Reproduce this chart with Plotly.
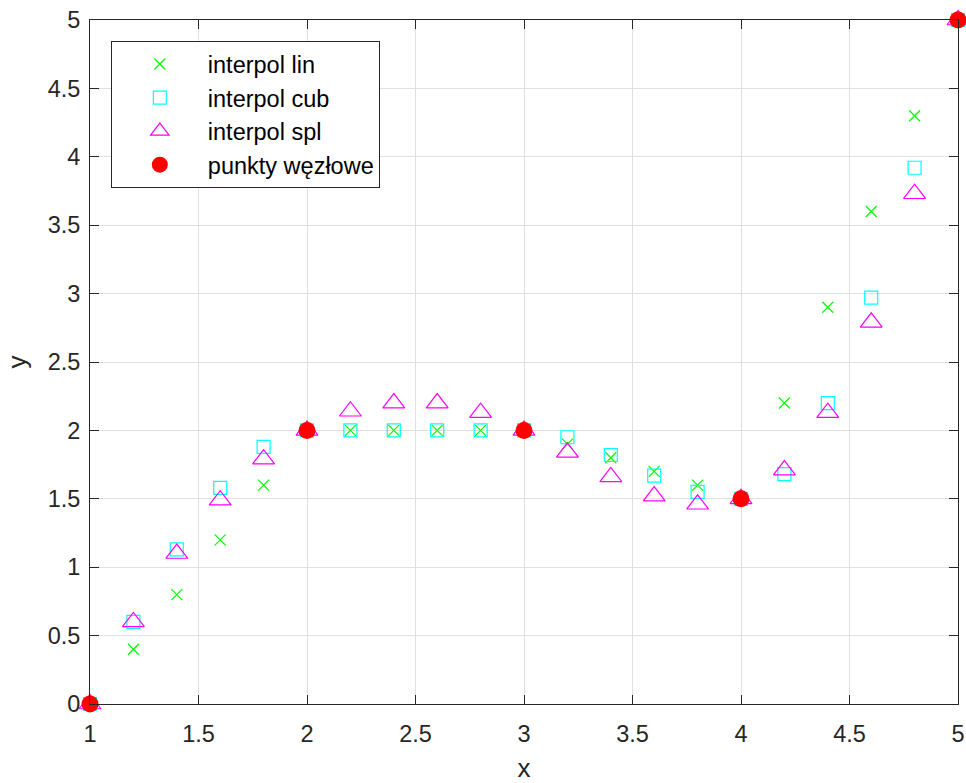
import plotly.graph_objects as go

x = [1.0, 1.2, 1.4, 1.6, 1.8, 2.0, 2.2, 2.4, 2.6, 2.8, 3.0,
     3.2, 3.4, 3.6, 3.8, 4.0, 4.2, 4.4, 4.6, 4.8, 5.0]
y_lin = [0, 0.4, 0.8, 1.2, 1.6, 2, 2, 2, 2, 2, 2,
         1.9, 1.8, 1.7, 1.6, 1.5, 2.2, 2.9, 3.6, 4.3, 5]
y_cub = [0, 0.6, 1.13, 1.58, 1.88, 2, 2, 2, 2, 2, 2,
         1.95, 1.82, 1.67, 1.55, 1.5, 1.68, 2.2, 2.97, 3.92, 5]
y_spl = [0, 0.6, 1.1, 1.49, 1.79, 2, 2.14, 2.2, 2.2, 2.13, 2,
         1.84, 1.66, 1.52, 1.46, 1.5, 1.71, 2.13, 2.79, 3.73, 5]
x_nodes = [1, 2, 3, 4, 5]
y_nodes = [0, 2, 2, 1.5, 5]

fig = go.Figure()
fig.add_trace(go.Scatter(x=x, y=y_lin, mode="markers", name="interpol lin",
                         marker=dict(symbol="x-thin", size=11, color="#00ff00",
                                     line=dict(color="#00ff00", width=1.2)),
                         cliponaxis=False))
fig.add_trace(go.Scatter(x=x, y=y_cub, mode="markers", name="interpol cub",
                         marker=dict(symbol="square-open", size=13, color="#00ffff",
                                     line=dict(width=1.2)),
                         cliponaxis=False))
fig.add_trace(go.Scatter(x=x, y=y_spl, mode="markers", name="interpol spl",
                         marker=dict(symbol="triangle-up-open", size=19, color="#ff00ff",
                                     line=dict(width=1.2)),
                         cliponaxis=False))
fig.add_trace(go.Scatter(x=x_nodes, y=y_nodes, mode="markers", name="punkty węzłowe",
                         marker=dict(symbol="circle", size=17, color="#ff0000"),
                         cliponaxis=False))

axis_common = dict(showgrid=True, gridcolor="#dfdfdf", gridwidth=1,
                   showline=True, linecolor="#262626", linewidth=1, mirror="ticks",
                   ticks="inside", ticklen=9, tickcolor="#262626", automargin=False,
                   zeroline=False, tickfont=dict(size=23.5, color="#262626"))

fig.update_xaxes(range=[1, 5], tickvals=[1, 1.5, 2, 2.5, 3, 3.5, 4, 4.5, 5],
                 ticktext=["1", "1.5", "2", "2.5", "3", "3.5", "4", "4.5", "5"],
                 ticklabelstandoff=9,
                 title=dict(text="x", font=dict(size=26, color="#262626"), standoff=14),
                 **axis_common)
fig.update_yaxes(range=[0, 5], tickvals=[0, 0.5, 1, 1.5, 2, 2.5, 3, 3.5, 4, 4.5, 5],
                 ticktext=["0", "0.5", "1", "1.5", "2", "2.5", "3", "3.5", "4", "4.5", "5"],
                 ticklabelstandoff=4,
                 title=dict(text="y", font=dict(size=26, color="#262626"), standoff=13),
                 **axis_common)

fig.update_layout(
    width=966, height=783,
    margin=dict(l=90, r=8, t=20, b=79),
    plot_bgcolor="white", paper_bgcolor="white",
    font=dict(family="Liberation Sans, Arial, sans-serif", color="#262626"),
    legend=dict(x=0.024, y=0.969, xanchor="left", yanchor="top",
                bgcolor="white", bordercolor="#262626", borderwidth=1,
                font=dict(size=23.5, color="#000000"), itemwidth=86),
    showlegend=True,
)

fig.write_html("out.html", config={"displayModeBar": False},
               post_script="document.body.style.margin='0';document.body.style.padding='0';")
